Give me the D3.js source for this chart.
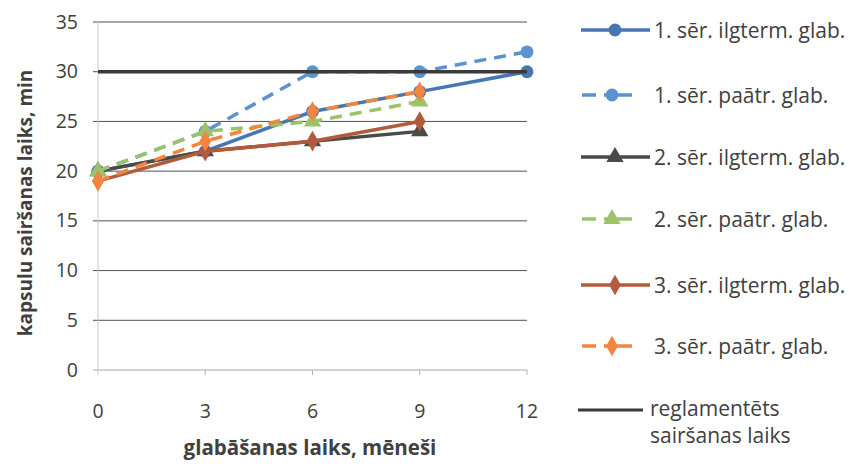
<!DOCTYPE html>
<html><head><meta charset="utf-8">
<script src="https://cdn.jsdelivr.net/npm/d3@7"></script>
<style>body{margin:0;background:#fff}svg{display:block}text{font-family:"Open Sans",Lato,sans-serif;fill:#404040}</style>
</head><body><svg id="c" width="860" height="464"></svg>
<script>
const months = [0, 3, 6, 9, 12];
const s1Long = [20, 22, 26, 28, 30];
const s1Acc = [20, 24, 30, 30, 32];
const s2Long = [20, 22, 23, 24];
const s2Acc = [20, 24, 25, 27];
const s3Long = [19, 22, 23, 25];
const s3Acc = [19, 23, 26, 28];
const refValue = [30, 30];
const refMonths = [0, 12];
const yTicks = [0, 5, 10, 15, 20, 25, 30, 35];
const seriesNames = ["1. sēr. ilgterm. glab.", "1. sēr. paātr. glab.", "2. sēr. ilgterm. glab.", "2. sēr. paātr. glab.", "3. sēr. ilgterm. glab.", "3. sēr. paātr. glab."];
const refName = ["reglamentēts", "sairšanas laiks"];
const xTitle = "glabāšanas laiks, mēneši";
const yTitle = "kapsulu sairšanas laiks, min";

const series = [
  {name: seriesNames[0], vals: s1Long, color: "#4677b0", dash: null, sym: d3.symbolCircle},
  {name: seriesNames[1], vals: s1Acc, color: "#5a92d2", dash: "12,8", sym: d3.symbolCircle},
  {name: seriesNames[2], vals: s2Long, color: "#4a4a48", dash: null, sym: d3.symbolTriangle},
  {name: seriesNames[3], vals: s2Acc, color: "#9cc26a", dash: "12,8", sym: d3.symbolTriangle},
  {name: seriesNames[4], vals: s3Long, color: "#b15a3c", dash: null, sym: d3.symbolDiamond},
  {name: seriesNames[5], vals: s3Acc, color: "#f5853e", dash: "12,8", sym: d3.symbolDiamond}
];

const svg = d3.select("#c");
const x = d3.scaleLinear().domain([0, 12]).range([98, 527]);
const y = d3.scaleLinear().domain([0, 35]).range([370, 22]);

// gridlines
svg.append("g").selectAll("line").data(yTicks).join("line")
  .attr("x1", 93).attr("x2", 527)
  .attr("y1", d => y(d)).attr("y2", d => y(d))
  .attr("stroke", d => d === 0 ? "#a8a8b8" : "#505050")
  .attr("stroke-width", 1);
// y axis line
svg.append("line").attr("x1", x(0)).attr("x2", x(0)).attr("y1", y(35)).attr("y2", y(0) + 5)
  .attr("stroke", "#c8c8c8").attr("stroke-width", 1);
// x tick marks
svg.append("g").selectAll("line").data(months.slice(1)).join("line")
  .attr("x1", d => x(d)).attr("x2", d => x(d)).attr("y1", y(0)).attr("y2", y(0) + 5)
  .attr("stroke", "#b0b0c0");

// tick labels
svg.append("g").selectAll("text").data(yTicks).join("text")
  .attr("x", 78).attr("y", d => y(d) + 6.5).attr("text-anchor", "end")
  .style("font-size", "19.5px").text(d => d);
svg.append("g").selectAll("text").data(months).join("text")
  .attr("x", d => x(d)).attr("y", 418).attr("text-anchor", "middle")
  .style("font-size", "19.5px").text(d => d);

// axis titles
svg.append("text").attr("x", 310).attr("y", 455).attr("text-anchor", "middle")
  .style("font-size", "20.5px").style("font-weight", "bold").text(xTitle);
svg.append("text").attr("transform", "translate(32,203) rotate(-90)").attr("text-anchor", "middle")
  .style("font-size", "19px").style("font-weight", "bold").text(yTitle);

// series
const line = d3.line().x((d, i) => x(months[i])).y(d => y(d));
series.forEach(s => {
  const g = svg.append("g");
  g.append("path").attr("d", line(s.vals)).attr("fill", "none")
    .attr("stroke", s.color).attr("stroke-width", 3.5)
    .attr("stroke-dasharray", s.dash);
  g.selectAll("path.m").data(s.vals).join("path").attr("class", "m")
    .attr("transform", (d, i) => `translate(${x(months[i])},${y(d)})`)
    .attr("d", d3.symbol().type(s.sym).size(s.sym === d3.symbolDiamond ? 120 : 130))
    .attr("fill", s.color);
});
// reference line
svg.append("path").attr("d", d3.line().x((d, i) => x(refMonths[i])).y(d => y(d))(refValue))
  .attr("stroke", "#3a3a3a").attr("stroke-width", 3.5).attr("fill", "none");

// legend
const legY = [30, 95, 157, 219, 285, 346];
const lg = svg.append("g");
series.forEach((s, i) => {
  const yy = legY[i];
  const g = lg.append("g");
  if (s.dash) {
    g.append("line").attr("x1", 582).attr("x2", 596).attr("y1", yy).attr("y2", yy).attr("stroke", s.color).attr("stroke-width", 3.5);
    g.append("line").attr("x1", 604).attr("x2", 632).attr("y1", yy).attr("y2", yy).attr("stroke", s.color).attr("stroke-width", 3.5);
  } else {
    g.append("line").attr("x1", 581).attr("x2", 650).attr("y1", yy).attr("y2", yy).attr("stroke", s.color).attr("stroke-width", 3.5);
  }
  g.append("path").attr("transform", `translate(${s.dash ? 612 : 615},${yy})`)
    .attr("d", d3.symbol().type(s.sym).size(s.sym === d3.symbolDiamond ? 120 : 130)).attr("fill", s.color);
  g.append("text").attr("x", 654).attr("y", yy + 7.5).style("font-size", "21px").text(s.name);
});
lg.append("line").attr("x1", 578).attr("x2", 643).attr("y1", 410).attr("y2", 410).attr("stroke", "#3a3a3a").attr("stroke-width", 3);
lg.selectAll("text.r").data(refName).join("text").attr("class", "r")
  .attr("x", 650).attr("y", (d, i) => 416 + i * 27).style("font-size", "21px").text(d => d);
</script></body></html>
